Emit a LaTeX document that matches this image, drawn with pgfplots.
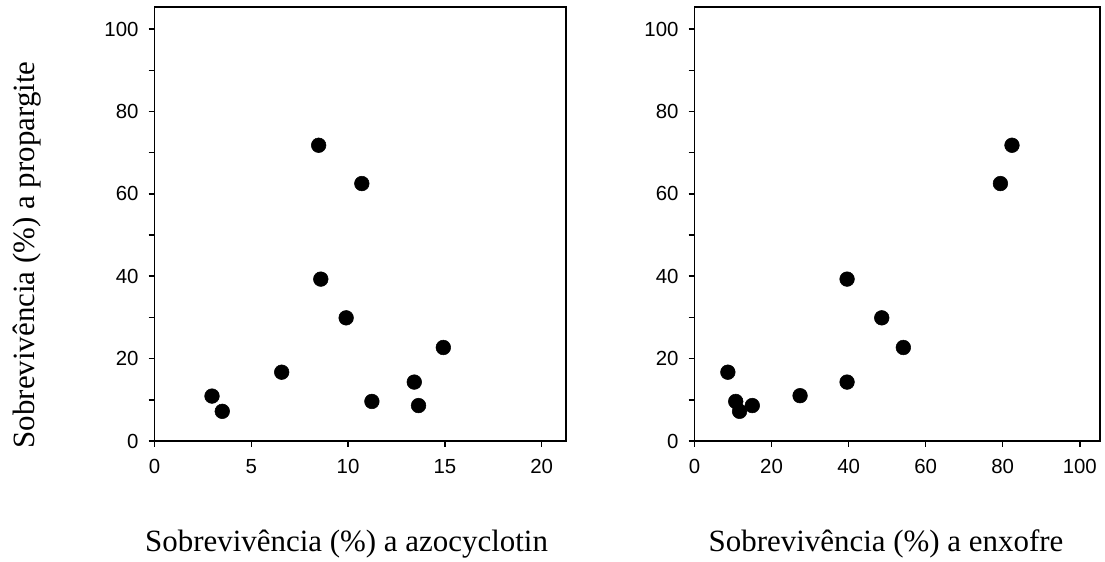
\documentclass[border=0pt]{standalone}
\usepackage{pgfplots}
\pgfplotsset{compat=1.18}
\usepackage{fontspec}
\setmainfont{Liberation Serif}
\setsansfont{Liberation Sans}

\pgfplotsset{
    panel/.style={
        scale only axis,
        height=325.3pt,
        ymin=0, ymax=105.3,
        ytick={0,20,...,100},
        minor y tick num=1,
        tick pos=left,
        tick align=outside,
        major tick length=4.5pt,
        minor tick length=4.5pt,
        axis line style={line width=1.3pt},
        every tick/.style={line width=1.1pt, black},
        /pgf/number format/assume math mode=true,
        tick label style={font=\sffamily\fontsize{15.3}{18}\selectfont},
        yticklabel style={xshift=-4pt},
        xticklabel style={yshift=-6pt},
        label style={font=\fontsize{23.2}{27}\selectfont},
        xlabel style={anchor=base, yshift=-83.25pt},
        only marks,
    },
}

\begin{document}
\begin{tikzpicture}
    \path[use as bounding box] (-115.9pt,-90.75pt) rectangle (712.9pt,330.75pt);

    % left panel
    \begin{axis}[
        panel,
        at={(0pt,0pt)},
        width=308.5pt,
        xmin=0, xmax=21.25,
        xtick={0,5,...,20},
        xlabel={Sobreviv\^encia (\%) a azocyclotin},
        ylabel={Sobreviv\^encia (\%) a propargite},
        xlabel style={at={(axis description cs:0.467,0)}},
        ylabel style={at={(axis description cs:-0.310,0.429)}, rotate=0, anchor=center},
    ]
        \addplot[mark=*, mark size=5.5pt, black] coordinates {
            (2.97,10.9) (3.5,7.2) (6.57,16.7) (8.48,71.8) (8.59,39.3) (9.9,29.9)
            (10.71,62.5) (11.23,9.6) (13.42,14.3) (13.64,8.6) (14.92,22.7)
        };
    \end{axis}

    % right panel
    \begin{axis}[
        panel,
        at={(405pt,0pt)},
        width=304.3pt,
        xmin=0, xmax=105.3,
        xtick={0,20,...,100},
        xlabel={Sobreviv\^encia (\%) a enxofre},
        xlabel style={at={(axis description cs:0.472,0)}},
    ]
        \addplot[mark=*, mark size=5.5pt, black] coordinates {
            (8.66,16.7) (10.7,9.6) (11.7,7.2) (15.0,8.6) (27.4,11.0) (39.6,14.3)
            (39.6,39.3) (48.6,29.9) (54.2,22.7) (79.4,62.5) (82.4,71.8)
        };
    \end{axis}
\end{tikzpicture}
\end{document}
